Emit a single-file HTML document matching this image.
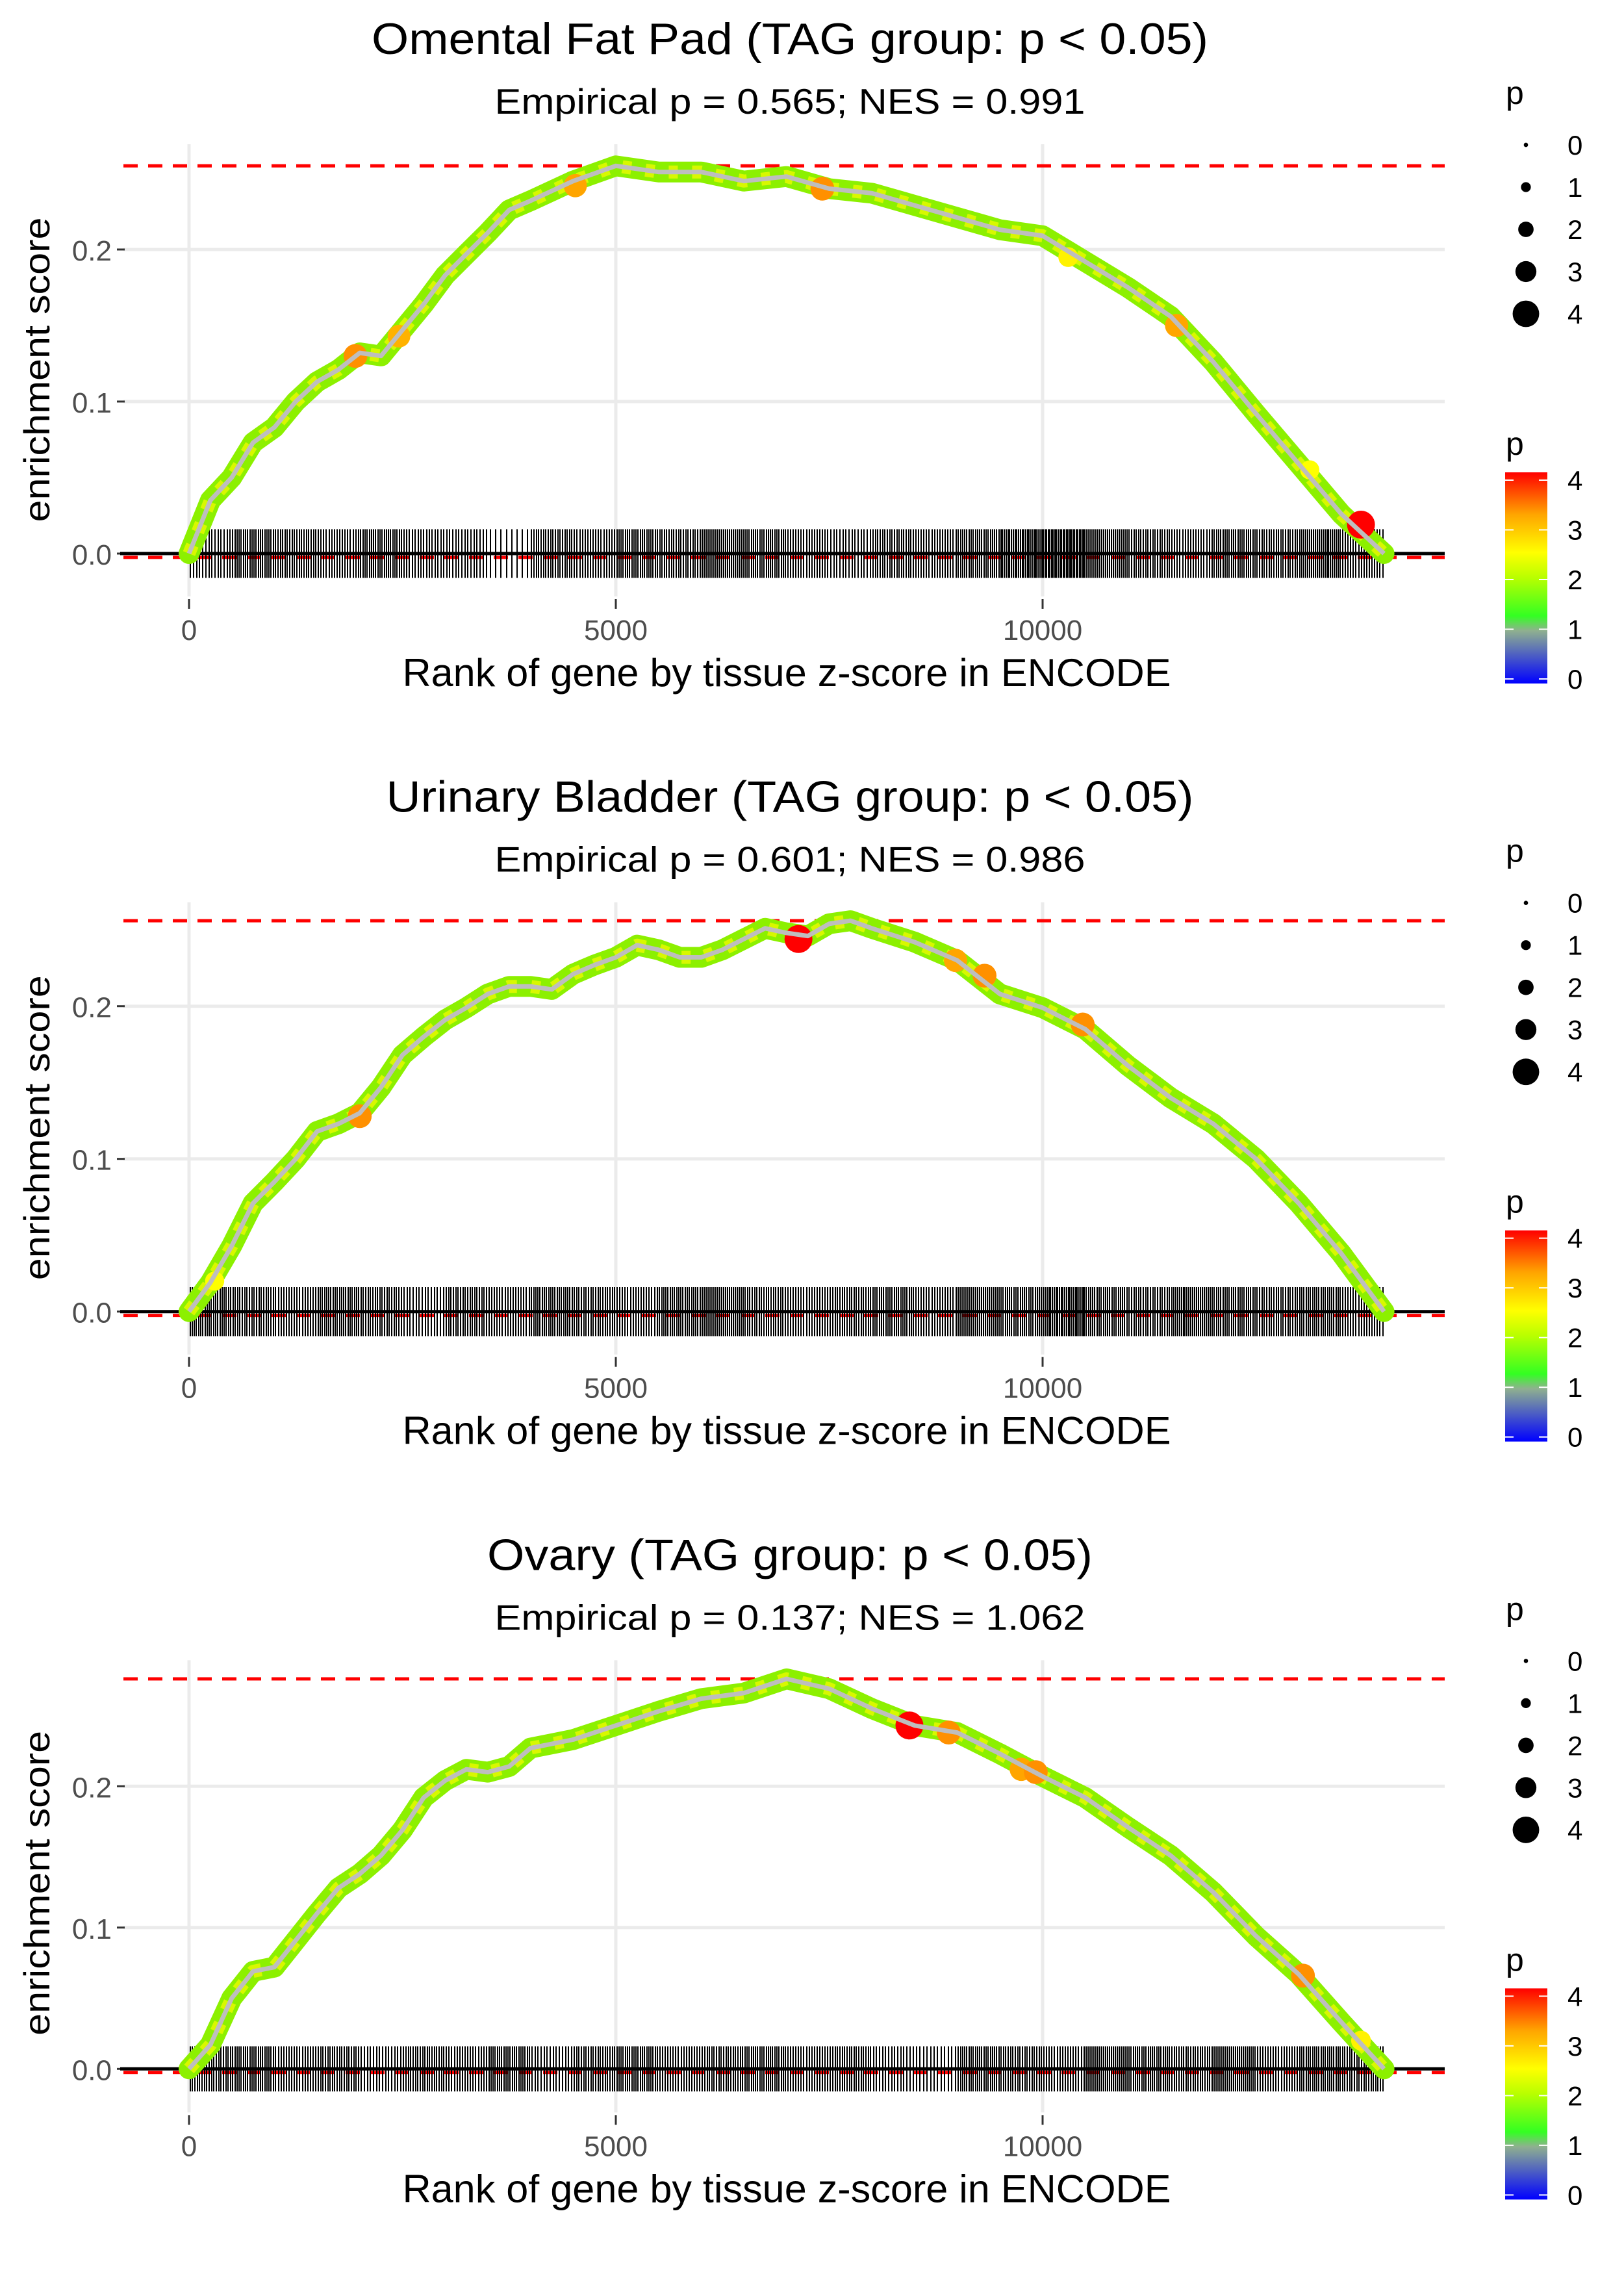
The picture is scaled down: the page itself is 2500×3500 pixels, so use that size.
<!DOCTYPE html>
<html><head><meta charset="utf-8"><style>
html,body{margin:0;padding:0;background:#fff}
svg{display:block;font-family:"Liberation Sans",sans-serif}
</style></head><body>
<svg id="chart" width="2500" height="3500" viewBox="0 0 2500 3500" xmlns="http://www.w3.org/2000/svg">
<defs>
<linearGradient id="pgrad" x1="0" y1="1" x2="0" y2="0">
<stop offset="0" stop-color="#0000ff"/><stop offset="0.25" stop-color="#8fb08f"/>
<stop offset="0.32" stop-color="#33ff22"/><stop offset="0.5" stop-color="#b8ff00"/>
<stop offset="0.62" stop-color="#ffff00"/><stop offset="0.8" stop-color="#ffa500"/>
<stop offset="1" stop-color="#ff0000"/></linearGradient>
</defs>
</svg>
<script>
const xTicks=[0,5000,10000];
const xTickLabels=["0","5000","10000"];
const yTicks=[0,0.1,0.2];
const yTickLabels=["0.0","0.1","0.2"];
const titles=["Omental Fat Pad (TAG group: p < 0.05)","Urinary Bladder (TAG group: p < 0.05)","Ovary (TAG group: p < 0.05)"];
const titleLens=[1288,1243,932];
const subtitles=["Empirical p = 0.565; NES = 0.991","Empirical p = 0.601; NES = 0.986","Empirical p = 0.137; NES = 1.062"];

const p1Ranks=[0,250,500,750,1000,1250,1500,1750,2000,2250,2500,2750,3000,3250,3500,3750,4000,4500,5000,5500,6000,6500,7000,7500,8000,8500,9000,9500,10000,10500,11000,11500,12000,12500,13000,13500,14000];
const p1ES=[0,0.035,0.05,0.073,0.083,0.1,0.113,0.121,0.132,0.13,0.147,0.164,0.183,0.197,0.211,0.226,0.232,0.245,0.255,0.251,0.251,0.245,0.248,0.24,0.237,0.229,0.221,0.213,0.209,0.192,0.175,0.156,0.126,0.092,0.059,0.026,0];
const p1HiRank=[4525,1950,2460,7420,11570,13730,10300,13130];
const p1HiES=[0.242,0.13,0.143,0.24,0.15,0.019,0.195,0.055];
const p1HiP=[3.2,3.3,3.1,3.3,3.2,4,2.6,2.5];
const p1Rug=[14,20,18,16,20,15,14,8,18,16,20,18,22,20,16,14,18,16,20,24,26,22,18,16,20,18,22,16];

const p2Ranks=[0,250,500,750,1000,1250,1500,1750,2000,2250,2500,2750,3000,3250,3500,3750,4000,4250,4500,4750,5000,5250,5500,5750,6000,6250,6500,6750,7000,7250,7500,7750,8000,8500,9000,9500,10000,10500,11000,11500,12000,12500,13000,13500,14000];
const p2ES=[0,0.019,0.043,0.071,0.085,0.1,0.118,0.123,0.13,0.147,0.168,0.18,0.191,0.199,0.208,0.213,0.213,0.211,0.221,0.227,0.232,0.24,0.237,0.232,0.232,0.237,0.244,0.251,0.248,0.246,0.254,0.256,0.251,0.242,0.23,0.208,0.199,0.185,0.161,0.14,0.123,0.1,0.071,0.038,0];
const p2HiRank=[7140,8980,9320,10470,2000,300];
const p2HiES=[0.244,0.23,0.22,0.188,0.128,0.02];
const p2HiP=[4,3.2,3.3,3.3,3.3,2.5];
const p2Rug=[20,18,16,20,18,14,18,16,20,18,16,20,22,18,16,18,20,16,22,20,24,20,18,22,20,18,20,16];

const p3Ranks=[0,250,500,750,1000,1250,1500,1750,2000,2250,2500,2750,3000,3250,3500,3750,4000,4500,5000,5500,6000,6500,7000,7500,8000,8500,9000,9500,10000,10500,11000,11500,12000,12500,13000,13500,14000];
const p3ES=[0,0.017,0.05,0.069,0.072,0.091,0.11,0.128,0.138,0.151,0.169,0.192,0.204,0.212,0.21,0.214,0.227,0.233,0.243,0.253,0.262,0.266,0.276,0.269,0.255,0.243,0.238,0.223,0.207,0.192,0.171,0.151,0.125,0.094,0.067,0.033,0];
const p3HiRank=[8440,8900,9750,9920,13050,13730];
const p3HiES=[0.243,0.238,0.212,0.21,0.066,0.02];
const p3HiP=[4,3.3,3.2,3.3,3.3,2.6];
const p3Rug=[18,20,16,18,14,18,16,20,14,18,20,16,18,20,16,18,14,12,20,18,16,22,20,18,22,16,20,18];

const sizeLegendVals=[0,1,2,3,4];
const colorLegendVals=[0,1,2,3,4];

const svg=document.getElementById('chart');
const NS='http://www.w3.org/2000/svg';
function mk(tag,attrs,parent){const e=document.createElementNS(NS,tag);for(const k in attrs)e.setAttribute(k,attrs[k]);(parent||svg).appendChild(e);return e;}
function pColor(p){
  const stops=[[0,[0,0,255]],[1,[143,176,143]],[1.28,[51,255,34]],[2,[184,255,0]],[2.5,[255,255,0]],[3.2,[255,165,0]],[4,[255,0,0]]];
  for(let i=1;i<stops.length;i++){if(p<=stops[i][0]){const a=stops[i-1],b=stops[i];const t=(p-a[0])/(b[0]-a[0]);
    const c=a[1].map((v,j)=>Math.round(v+(b[1][j]-v)*t));return `rgb(${c[0]},${c[1]},${c[2]})`;}}
  return 'rgb(255,0,0)';
}
function pRadius(p){return 3.5+p*4.5;}

const panels=[
 {ranks:p1Ranks,es:p1ES,hr:p1HiRank,he:p1HiES,hp:p1HiP,rug:p1Rug,zero:852,scale:2340},
 {ranks:p2Ranks,es:p2ES,hr:p2HiRank,he:p2HiES,hp:p2HiP,rug:p2Rug,zero:2018.7,scale:2350},
 {ranks:p3Ranks,es:p3ES,hr:p3HiRank,he:p3HiES,hp:p3HiP,rug:p3Rug,zero:3184.3,scale:2175}
];
const X0=291, XS=657/5000;
function xS(r){return X0+r*XS;}

panels.forEach((P,i)=>{
  const oy=i*1166.7;
  const yS=v=>P.zero-v*P.scale;
  const g=mk('g',{});
  
  
  const top=222+oy, bot=918+oy, left=190, right=2224;
  const t=mk('text',{x:1216,y:83+oy,'text-anchor':'middle','font-size':68,textLength:titleLens[i],lengthAdjust:'spacingAndGlyphs',fill:'#000'},g);
  t.textContent=titles[i];
  
  
  const st=mk('text',{x:1216,y:175+oy,'text-anchor':'middle','font-size':55,textLength:909,lengthAdjust:'spacingAndGlyphs',fill:'#000'},g);
  st.textContent=subtitles[i];
  
  
  yTicks.forEach((v,k)=>{
    const gl=mk('line',{x1:left,x2:right,y1:yS(v),y2:yS(v),stroke:'#ebebeb','stroke-width':5},g);
    
    
    const tk=mk('line',{x1:180,x2:192,y1:yS(v),y2:yS(v),stroke:'#333','stroke-width':3},g);
    
    
    const tl=mk('text',{x:172,y:yS(v)+17,'text-anchor':'end','font-size':44,fill:'#4d4d4d'},g);
    tl.textContent=yTickLabels[k];
    
    
  });
  xTicks.forEach((v,k)=>{
    const gl=mk('line',{x1:xS(v),x2:xS(v),y1:top,y2:bot,stroke:'#ebebeb','stroke-width':5},g);
    
    
    const tk=mk('line',{x1:xS(v),x2:xS(v),y1:922+oy,y2:937+oy,stroke:'#333','stroke-width':3},g);
    
    
    const tl=mk('text',{x:xS(v),y:985+oy,'text-anchor':'middle','font-size':44,fill:'#4d4d4d'},g);
    tl.textContent=xTickLabels[k];
    
    
  });
  const xt=mk('text',{x:1211,y:1056+oy,'text-anchor':'middle','font-size':60,textLength:1183,lengthAdjust:'spacingAndGlyphs',fill:'#000'},g);
  xt.textContent='Rank of gene by tissue z-score in ENCODE';
  
  
  const ycy=(i==2?565:569)+oy;
  const yt=mk('text',{x:0,y:0,'text-anchor':'middle','font-size':56,textLength:469,lengthAdjust:'spacingAndGlyphs',fill:'#000',transform:`translate(76,${ycy}) rotate(-90)`},g);
  yt.textContent='enrichment score';
  
  
  const maxES=Math.max(...P.es);
  const dl=mk('line',{x1:left,x2:right,y1:yS(maxES),y2:yS(maxES),stroke:'#ff0000','stroke-width':5,'stroke-dasharray':'22 16'},g);
  
  
  const dl2=mk('line',{x1:left,x2:right,y1:yS(-0.0025),y2:yS(-0.0025),stroke:'#ff0000','stroke-width':5,'stroke-dasharray':'22 16'},g);
  
  
  const rg=mk('g',{'shape-rendering':'crispEdges'},g);
  
  
  P.rug.forEach((n,b)=>{
    for(let j=0;j<n;j++){
      const r=b*500+(j+0.5)*500/n;
      const l=mk('line',{x1:Math.round(xS(r)),x2:Math.round(xS(r)),y1:yS(0.016),y2:yS(-0.016),stroke:'#000','stroke-width':2},rg);
      
      
    }
  });
  const zl=mk('line',{x1:185,x2:right,y1:yS(0),y2:yS(0),stroke:'#000','stroke-width':5},g);
  
  
  const pts=P.ranks.map((r,k)=>xS(r).toFixed(1)+','+yS(P.es[k]).toFixed(1)).join(' ');
  const band=mk('polyline',{points:pts,fill:'none',stroke:'#8cf000','stroke-width':32,'stroke-linejoin':'round','stroke-linecap':'round'},g);
  
  
  const band2=mk('polyline',{points:pts,fill:'none',stroke:'#d8f800','stroke-width':20,'stroke-linejoin':'round','stroke-dasharray':'14 22'},g);
  
  
  P.hr.forEach((r,k)=>{
    const c=mk('circle',{cx:xS(r),cy:yS(P.he[k]),r:pRadius(P.hp[k]),fill:pColor(P.hp[k])},g);
    
    
  });
  const line=mk('polyline',{points:pts,fill:'none',stroke:'#bebebe','stroke-width':7,'stroke-linejoin':'round'},g);
  
  
  const lg=mk('g',{},g);
  
  
  const lt=mk('text',{x:2318,y:160+oy,'font-size':50,fill:'#000'},lg);
  lt.textContent='p';
  
  
  sizeLegendVals.forEach((v,k)=>{
    const cy=223+k*65+oy;
    const c=mk('circle',{cx:2349,cy:cy,r:pRadius(v)*0.95,fill:'#000'},lg);
    
    
    const tx=mk('text',{x:2413,y:cy+15,'font-size':42,fill:'#000'},lg);
    tx.textContent=String(v);
    
    
  });
  const cg=mk('g',{},g);
  
  
  const ct=mk('text',{x:2318,y:700+oy,'font-size':50,fill:'#000'},cg);
  ct.textContent='p';
  
  
  const bar=mk('rect',{x:2317,y:727+oy,width:65,height:325,fill:'url(#pgrad)'},cg);
  
  
  colorLegendVals.forEach(v=>{
    const y=1045-v*76.5+oy;
    const a=mk('line',{x1:2317,x2:2330,y1:y,y2:y,stroke:'#fff','stroke-width':2},cg);
    
    
    const b=mk('line',{x1:2369,x2:2382,y1:y,y2:y,stroke:'#fff','stroke-width':2},cg);
    
    
    const tx=mk('text',{x:2413,y:y+15,'font-size':42,fill:'#000'},cg);
    tx.textContent=String(v);
    
    
  });
});
</script>
</body></html>
